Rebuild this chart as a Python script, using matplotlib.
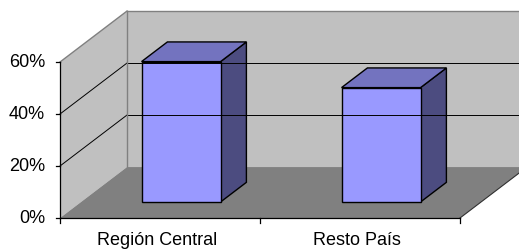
import matplotlib
matplotlib.use('Agg')
import matplotlib.pyplot as plt
from matplotlib.patches import Polygon

# data
categories = ['Región Central', 'Resto País']
values = [54, 44]              # percent
yticks = [0, 20, 40, 60]
ytick_labels = ['0%', '20%', '40%', '60%']

# oblique 3D look: depth offset in (category units, percent units)
DX, DY = 0.335, 19.6
BAR_W = 0.395
D0, D1 = 0.314, 0.70           # bar front / back depth fraction
YMAX = 60


def proj(x, y, d):
    return (x + d * DX, y + d * DY)


fig = plt.figure(figsize=(5.19, 2.49), dpi=100)
ax = fig.add_axes([0, 0, 1, 1])
ax.set_xlim(-0.8, 1.795)
ax.set_ylim(-11.92, 83.85)
ax.axis('off')

x_left, x_right = -0.5, len(categories) - 0.5

# walls and floor
left_wall = [proj(x_left, 0, 0), proj(x_left, YMAX, 0), proj(x_left, YMAX, 1), proj(x_left, 0, 1)]
back_wall = [proj(x_left, 0, 1), proj(x_left, YMAX, 1), proj(x_right, YMAX, 1), proj(x_right, 0, 1)]
floor = [proj(x_left, 0, 0), proj(x_right, 0, 0), proj(x_right, 0, 1), proj(x_left, 0, 1)]
ax.add_patch(Polygon(left_wall, closed=True, facecolor='#C0C0C0', edgecolor='none'))
ax.add_patch(Polygon(back_wall, closed=True, facecolor='#C0C0C0', edgecolor='none'))
ax.add_patch(Polygon(floor, closed=True, facecolor='#808080', edgecolor='none'))

# gridlines
for t in yticks[1:-1]:
    p0, p1 = proj(x_left, t, 0), proj(x_left, t, 1)
    ax.plot([p0[0], p1[0]], [p0[1], p1[1]], color='black', lw=0.7)
    p2 = proj(x_right, t, 1)
    ax.plot([p1[0], p2[0]], [p1[1], p2[1]], color='black', lw=0.7)

# wall edges (gray)
edge = '#808080'
for a, b in [(proj(x_left, YMAX, 0), proj(x_left, YMAX, 1)),
             (proj(x_left, YMAX, 1), proj(x_right, YMAX, 1)),
             (proj(x_left, 0, 1), proj(x_left, YMAX, 1))]:
    ax.plot([a[0], b[0]], [a[1], b[1]], color=edge, lw=1.0)

# floor right edge
a, b = proj(x_right, 0, 0), proj(x_right, 0, 1)
ax.plot([a[0], b[0]], [a[1], b[1]], color='#303030', lw=0.8)

# axis lines
ax.plot([x_left, x_left], [0, YMAX], color='black', lw=0.9)
ax.plot([x_left, x_right], [0, 0], color='black', lw=0.9)
for t in yticks:
    ax.plot([x_left - 0.02, x_left], [t, t], color='black', lw=0.9)
    ax.text(x_left - 0.075, t, ytick_labels[t // 20], ha='right', va='center',
            fontsize=13, family='Liberation Sans')
for xt in range(len(categories) + 1):
    ax.plot([xt - 0.5, xt - 0.5], [0, -1.9], color='black', lw=0.9)

# bars
front_c, top_c, side_c = '#9999FF', '#7373BF', '#4C4C80'
for i, v in enumerate(values):
    x0, x1 = i - BAR_W / 2, i + BAR_W / 2
    front = [proj(x0, 0, D0), proj(x1, 0, D0), proj(x1, v, D0), proj(x0, v, D0)]
    top = [proj(x0, v, D0), proj(x1, v, D0), proj(x1, v, D1), proj(x0, v, D1)]
    side = [proj(x1, 0, D0), proj(x1, 0, D1), proj(x1, v, D1), proj(x1, v, D0)]
    for poly, c in [(side, side_c), (top, top_c), (front, front_c)]:
        ax.add_patch(Polygon(poly, closed=True, facecolor=c, edgecolor='black',
                             lw=1.0, joinstyle='miter'))
    ax.text(i - 0.015, -8.8, categories[i], ha='center', va='center',
            fontsize=13, family='Liberation Sans')

fig.savefig('out.png', dpi=100)
